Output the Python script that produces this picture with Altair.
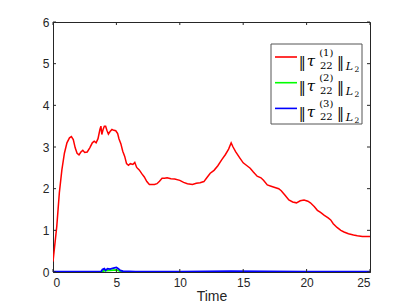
import altair as alt
import pandas as pd

# ---- data ----
time_red = [0.0, 0.3, 0.5, 0.7, 0.9, 1.1, 1.3, 1.45, 1.6, 1.75, 1.9, 2.05, 2.2, 2.35, 2.5, 2.7,
            2.9, 3.1, 3.25, 3.4, 3.55, 3.7, 3.78, 3.85, 3.95, 4.05, 4.15, 4.25, 4.37, 4.5, 4.65,
            4.8, 4.95, 5.1, 5.2, 5.35, 5.5, 5.65, 5.8, 5.95, 6.1, 6.3, 6.45, 6.6, 6.8, 7.0, 7.2,
            7.4, 7.6, 7.8, 8.0, 8.2, 8.4, 8.6, 8.8, 9.0, 9.3, 9.6, 10.0, 10.3, 10.6, 11.0, 11.3,
            11.6, 11.9, 12.1, 12.4, 12.7, 13.0, 13.3, 13.6, 13.85, 14.05, 14.2, 14.4, 14.7, 15.0,
            15.3, 15.55, 15.8, 16.1, 16.4, 16.6, 16.9, 17.2, 17.5, 17.8, 18.0, 18.3, 18.6, 18.9,
            19.2, 19.5, 19.8, 20.1, 20.3, 20.6, 20.85, 21.1, 21.4, 21.7, 21.9, 22.1, 22.4, 22.7,
            22.95, 23.3, 23.7, 24.0, 24.4, 24.7, 25.0]
red_vals = [0.25, 1.1, 1.9, 2.45, 2.85, 3.1, 3.22, 3.25, 3.18, 2.98, 2.85, 2.81, 2.88, 2.92, 2.87, 2.88,
            2.98, 3.1, 3.14, 3.1, 3.2, 3.42, 3.5, 3.3, 3.42, 3.5, 3.5, 3.4, 3.31, 3.37, 3.42,
            3.4, 3.39, 3.32, 3.2, 3.08, 2.9, 2.78, 2.6, 2.56, 2.6, 2.58, 2.63, 2.51, 2.45, 2.36, 2.28,
            2.17, 2.1, 2.1, 2.1, 2.12, 2.18, 2.25, 2.25, 2.26, 2.24, 2.23, 2.2, 2.15, 2.12, 2.1, 2.13,
            2.14, 2.17, 2.25, 2.37, 2.44, 2.55, 2.69, 2.82, 2.95, 3.1, 3.0, 2.89, 2.75, 2.62,
            2.55, 2.49, 2.4, 2.3, 2.26, 2.2, 2.09, 2.06, 2.03, 2.0, 1.95, 1.84, 1.73, 1.68,
            1.66, 1.71, 1.73, 1.7, 1.66, 1.57, 1.48, 1.43, 1.36, 1.3, 1.25, 1.16, 1.07, 1.0,
            0.96, 0.92, 0.89, 0.87, 0.85, 0.85, 0.85]

time_green = [0.0, 3.9, 4.0, 4.5, 5.0, 5.3, 5.6, 6.0, 10.0, 15.0, 20.0, 25.0]
green_vals = [0.0, 0.0, 0.03, 0.04, 0.05, 0.02, 0.005, 0.005, 0.003, 0.003, 0.002, 0.0]

time_blue = [0.0, 2.0, 3.8, 3.9, 4.05, 4.15, 4.3, 4.5, 4.7, 4.85, 5.0, 5.15, 5.3, 5.5, 6.0, 6.5,
             10.0, 14.0, 20.0, 25.0]
blue_vals = [0.01, 0.01, 0.01, 0.06, 0.08, 0.04, 0.08, 0.07, 0.09, 0.1, 0.11, 0.08, 0.04, 0.02,
             0.015, 0.01, 0.01, 0.02, 0.01, 0.01]

x_ticks = [0, 5, 10, 15, 20, 25]
y_ticks = [0, 1, 2, 3, 4, 5, 6]
series_names = ["1", "2", "3"]
series_colors = ["#ff0000", "#00ff00", "#0000ff"]

W, H = 317, 250
AX = "#262626"

xs = alt.Scale(domain=[0, 25], nice=False)
ys = alt.Scale(domain=[0, 6], nice=False)
x_axis = alt.Axis(values=x_ticks, title="Time", labelPadding=5, titlePadding=1,
                  titleFontSize=14, titleFontWeight="normal", titleColor=AX,
                  titleFont="Liberation Sans")
y_axis = alt.Axis(values=y_ticks, title=None, labelPadding=4)


def line_layer(ts, vs, color, sw):
    df = pd.DataFrame({"t": ts, "v": vs})
    return alt.Chart(df).mark_line(color=color, strokeWidth=sw, clip=True).encode(
        x=alt.X("t:Q", scale=xs, axis=x_axis),
        y=alt.Y("v:Q", scale=ys, axis=y_axis),
    )


red = line_layer(time_red, red_vals, series_colors[0], 1.5)
green = line_layer(time_green, green_vals, series_colors[1], 1.8)
blue = line_layer(time_blue, blue_vals, series_colors[2], 1.8)

xt = pd.DataFrame({"t": x_ticks})
yt = pd.DataFrame({"v": y_ticks})
tick_bottom = alt.Chart(xt).mark_rule(color=AX, strokeWidth=1).encode(
    x="t:Q", y=alt.value(H), y2=alt.value(H - 3))
tick_top = alt.Chart(xt).mark_rule(color=AX, strokeWidth=1).encode(
    x="t:Q", y=alt.value(0), y2=alt.value(3))
tick_left = alt.Chart(yt).mark_rule(color=AX, strokeWidth=1).encode(
    y="v:Q", x=alt.value(0), x2=alt.value(3))
tick_right = alt.Chart(yt).mark_rule(color=AX, strokeWidth=1).encode(
    y="v:Q", x=alt.value(W), x2=alt.value(W - 3))

# ---- legend (drawn by hand, LaTeX-like) ----
legend_layers = []
legend_box = alt.Chart(pd.DataFrame({"a": [0]})).mark_rect(
    fill="white", stroke="#555555", strokeWidth=1).encode(
    x=alt.value(218), x2=alt.value(309), y=alt.value(22), y2=alt.value(102))
legend_layers.append(legend_box)

serif = "DejaVu Serif"
base = alt.Chart(pd.DataFrame({"a": [0]}))
for i, (name, col) in enumerate(zip(series_names, series_colors)):
    ly = 35 + i * 25.7
    legend_layers.append(base.mark_rule(color=col, strokeWidth=1.6).encode(
        x=alt.value(222), x2=alt.value(244), y=alt.value(ly)))
    legend_layers.append(base.mark_text(text="\u2016", font="DejaVu Serif", fontSize=14,
                                        align="center", baseline="alphabetic", color="black").encode(
        x=alt.value(249.3), y=alt.value(ly + 9.5)))
    legend_layers.append(base.mark_text(text="\u03c4", font=serif, fontSize=15, fontStyle="italic",
                                        align="center", baseline="alphabetic", color="black").encode(
        x=alt.value(258), y=alt.value(ly + 8.7)))
    legend_layers.append(base.mark_text(text="(" + name + ")", font=serif, fontSize=10,
                                        align="center", baseline="alphabetic", color="black").encode(
        x=alt.value(273.3), y=alt.value(ly - 1.5)))
    legend_layers.append(base.mark_text(text="22", font=serif, fontSize=10,
                                        align="center", baseline="alphabetic", color="black").encode(
        x=alt.value(273.3), y=alt.value(ly + 11.7)))
    legend_layers.append(base.mark_text(text="\u2016", font="DejaVu Serif", fontSize=14,
                                        align="center", baseline="alphabetic", color="black").encode(
        x=alt.value(287.5), y=alt.value(ly + 9.5)))
    legend_layers.append(base.mark_text(text="L", font=serif, fontSize=11, fontStyle="italic",
                                        align="center", baseline="alphabetic", color="black").encode(
        x=alt.value(296.5), y=alt.value(ly + 12.5)))
    legend_layers.append(base.mark_text(text="2", font=serif, fontSize=7.5,
                                        align="center", baseline="alphabetic", color="black").encode(
        x=alt.value(304), y=alt.value(ly + 14.5)))

chart = alt.layer(
    red, green, blue, tick_bottom, tick_top, tick_left, tick_right, *legend_layers
).properties(
    width=W, height=H,
    autosize=alt.AutoSizeParams(type="none"),
    padding={"left": 45, "top": 14, "right": 30, "bottom": 34},
).configure_view(
    stroke=AX, strokeWidth=1
).configure_axis(
    grid=False, ticks=False, tickSize=0, domain=True, domainColor=AX,
    labelFont="Liberation Sans", labelFontSize=12, labelColor=AX,
)

chart.save("out.html", embed_options={"renderer": "svg", "actions": False})
